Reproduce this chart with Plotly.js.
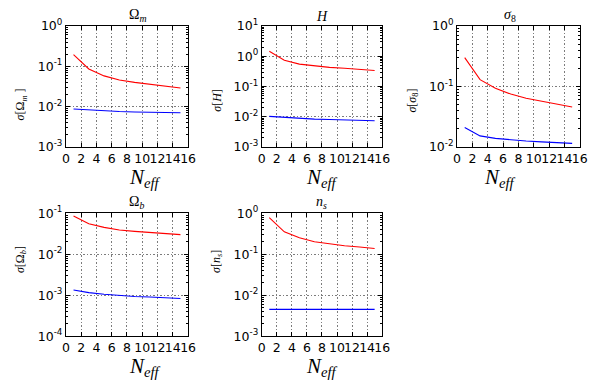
<!DOCTYPE html>
<html>
<head>
<meta charset="utf-8">
<script src="https://cdn.plot.ly/plotly-3.0.1.min.js"></script>
<style>
  html, body { margin: 0; padding: 0; background: #fff; }
  #chart { width: 599px; height: 382px; }
</style>
</head>
<body>
<div id="chart"></div>
<script>
// N_eff values shared by all panels
var neff = [1, 3, 5, 7, 9, 11, 13, 15];

// sigma values (red = upper curve, blue = lower curve)
var omegaMRed  = [0.195, 0.086, 0.058, 0.046, 0.040, 0.036, 0.033, 0.029];
var omegaMBlue = [0.0088, 0.0083, 0.0078, 0.0076, 0.0074, 0.0073, 0.0072, 0.0071];
var hRed       = [1.47, 0.74, 0.55, 0.48, 0.43, 0.40, 0.37, 0.34];
var hBlue      = [0.0103, 0.0095, 0.0088, 0.0084, 0.0081, 0.0078, 0.0076, 0.0074];
var sigma8Red  = [0.30, 0.13, 0.094, 0.075, 0.064, 0.057, 0.052, 0.046];
var sigma8Blue = [0.021, 0.0153, 0.0139, 0.0131, 0.0126, 0.0122, 0.0118, 0.0115];
var omegaBRed  = [0.085, 0.055, 0.045, 0.039, 0.036, 0.034, 0.032, 0.030];
var omegaBBlue = [0.00134, 0.00115, 0.00105, 0.00098, 0.00093, 0.0009, 0.00087, 0.00083];
var nsRed      = [0.78, 0.35, 0.25, 0.20, 0.18, 0.16, 0.15, 0.138];
var nsBlue     = [0.0045, 0.0045, 0.0045, 0.0045, 0.0045, 0.0045, 0.0045, 0.0045];

// panel titles, y labels and decade ranges (log10 exponents)
var panelTitles = ['Ω<sub><i>m</i></sub>', '<i>H</i>', '<i>σ</i><sub>8</sub>', 'Ω<sub><i>b</i></sub>', '<i>n</i><sub><i>s</i></sub>'];
var yLabels = ['<i>σ</i>[Ω<sub><i>m</i></sub> ]', '<i>σ</i>[<i>H</i>]', '<i>σ</i>[<i>σ</i><sub>8</sub>]', '<i>σ</i>[Ω<sub><i>b</i></sub>]', '<i>σ</i>[<i>n</i><sub><i>s</i></sub>]'];
var xLabel = '<i>N</i><sub><i>eff</i></sub>';
var yExponents = [[-3, -2, -1, 0], [-3, -2, -1, 0, 1], [-2, -1, 0], [-4, -3, -2, -1], [-3, -2, -1, 0]];
var xTicks = [0, 2, 4, 6, 8, 10, 12, 14, 16];

var redSeries  = [omegaMRed, hRed, sigma8Red, omegaBRed, nsRed];
var blueSeries = [omegaMBlue, hBlue, sigma8Blue, omegaBBlue, nsBlue];

// panel placement in paper coords
var xDomains = [[0.110, 0.314], [0.437, 0.638], [0.763, 0.968], [0.110, 0.314], [0.437, 0.638]];
var yDomains = [[0.615, 0.932], [0.615, 0.932], [0.615, 0.932], [0.120, 0.442], [0.120, 0.442]];

var mathFont = 'Liberation Serif, DejaVu Serif, serif';
var gridDash = '1.5px,2px';

var data = [];
var layout = {
	width: 599,
	height: 382,
	margin: {l: 0, r: 0, t: 0, b: 0},
	paper_bgcolor: '#fff',
	plot_bgcolor: '#fff',
	showlegend: false,
	font: {family: 'DejaVu Sans, sans-serif', size: 12, color: '#000'},
	annotations: []
};

for (var i = 0; i < 5; i++) {
	var sfx = i === 0 ? '' : String(i + 1);
	var xa = 'x' + sfx, ya = 'y' + sfx;

	data.push({x: neff, y: redSeries[i], xaxis: xa, yaxis: ya, mode: 'lines',
		line: {color: '#ff0000', width: 1.1}});
	data.push({x: neff, y: blueSeries[i], xaxis: xa, yaxis: ya, mode: 'lines',
		line: {color: '#0000ff', width: 1.1}});

	var ex = yExponents[i];
	var tvals = ex.map(function (e) { return Math.pow(10, e); });
	var ttext = ex.map(function (e) { return '10<sup>' + e + '</sup>'; });
	// minor ticks at 2..9 inside each decade
	var mvals = [];
	for (var k = 0; k < ex.length - 1; k++) {
		for (var m = 2; m <= 9; m++) mvals.push(m * Math.pow(10, ex[k]));
	}

	layout['xaxis' + sfx] = {
		domain: xDomains[i],
		anchor: ya,
		range: [0, 16],
		tickmode: 'array',
		tickvals: xTicks,
		ticktext: xTicks.map(String),
		tickangle: 0,
		ticks: 'inside',
		ticklen: 4,
		tickcolor: '#000',
		showline: true,
		linecolor: '#000',
		linewidth: 1,
		mirror: 'allticks',
		showgrid: true,
		gridcolor: '#444',
		griddash: gridDash,
		gridwidth: 0.7,
		zeroline: false,
		tickfont: {size: 12.5}
	};
	layout['yaxis' + sfx] = {
		domain: yDomains[i],
		anchor: xa,
		type: 'log',
		range: [ex[0], ex[ex.length - 1]],
		tickmode: 'array',
		tickvals: tvals,
		ticktext: ttext,
		ticks: 'inside',
		ticklen: 4,
		tickcolor: '#000',
		minor: {tickmode: 'array', tickvals: mvals, ticks: 'inside', ticklen: 2, tickcolor: '#000', showgrid: false},
		showline: true,
		linecolor: '#000',
		linewidth: 1,
		mirror: 'allticks',
		showgrid: true,
		gridcolor: '#444',
		griddash: gridDash,
		gridwidth: 0.7,
		zeroline: false,
		tickfont: {size: 12.5}
	};

	var xc = (xDomains[i][0] + xDomains[i][1]) / 2;
	// panel title
	layout.annotations.push({
		xref: 'paper', yref: 'paper', x: xc, y: yDomains[i][1],
		yanchor: 'bottom', yshift: 0, showarrow: false,
		text: panelTitles[i], font: {family: mathFont, size: 14}
	});
	// x axis label
	layout.annotations.push({
		xref: 'paper', yref: 'paper', x: xc, y: yDomains[i][0],
		yanchor: 'middle', yshift: -31, showarrow: false,
		text: xLabel, font: {family: mathFont, size: 21}
	});
	// y axis label
	layout.annotations.push({
		xref: 'paper', yref: 'paper', x: xDomains[i][0],
		y: (yDomains[i][0] + yDomains[i][1]) / 2,
		xanchor: 'center', xshift: -45, textangle: -90, showarrow: false,
		text: yLabels[i], font: {family: mathFont, size: 12}
	});
}

Plotly.newPlot('chart', data, layout, {staticPlot: true});
</script>
</body>
</html>
